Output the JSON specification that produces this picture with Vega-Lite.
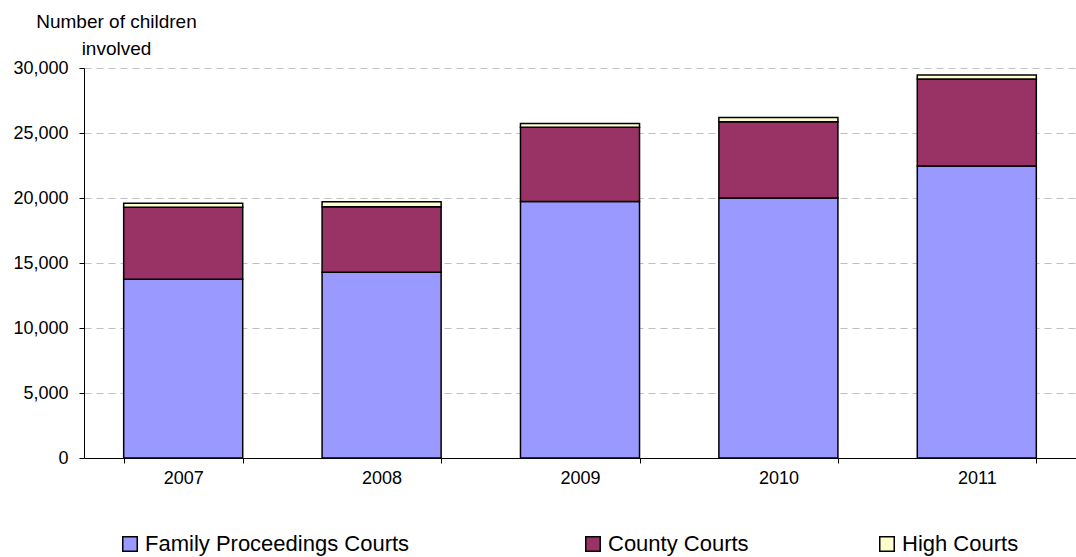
{
  "$schema": "https://vega.github.io/schema/vega-lite/v6.json",
  "autosize": {"type": "none"},
  "padding": {"left": 84, "top": 68, "right": 0, "bottom": 99},
  "width": 992,
  "height": 390,
  "background": "white",
  "config": {
    "font": "Liberation Sans",
    "view": {"stroke": null},
    "legend": {
      "title": null, "orient": "none", "direction": "horizontal", "padding": 0,
      "symbolType": "square", "symbolSize": 210, "symbolStrokeColor": "black",
      "symbolStrokeWidth": 1.5, "labelFontSize": 22, "labelColor": "black",
      "labelOffset": 4, "labelLimit": 400
    }
  },
  "data": {
    "values": [
      {"year": "2007", "court": "Family Proceedings Courts", "ord": 1, "n": 13750},
      {"year": "2007", "court": "County Courts", "ord": 2, "n": 5530},
      {"year": "2007", "court": "High Courts", "ord": 3, "n": 310},
      {"year": "2008", "court": "Family Proceedings Courts", "ord": 1, "n": 14280},
      {"year": "2008", "court": "County Courts", "ord": 2, "n": 5050},
      {"year": "2008", "court": "High Courts", "ord": 3, "n": 390},
      {"year": "2009", "court": "Family Proceedings Courts", "ord": 1, "n": 19740},
      {"year": "2009", "court": "County Courts", "ord": 2, "n": 5700},
      {"year": "2009", "court": "High Courts", "ord": 3, "n": 300},
      {"year": "2010", "court": "Family Proceedings Courts", "ord": 1, "n": 20000},
      {"year": "2010", "court": "County Courts", "ord": 2, "n": 5870},
      {"year": "2010", "court": "High Courts", "ord": 3, "n": 330},
      {"year": "2011", "court": "Family Proceedings Courts", "ord": 1, "n": 22460},
      {"year": "2011", "court": "County Courts", "ord": 2, "n": 6690},
      {"year": "2011", "court": "High Courts", "ord": 3, "n": 310}
    ]
  },
  "transform": [
    {"stack": "n", "groupby": ["year"], "sort": [{"field": "ord", "order": "ascending"}], "as": ["y0", "y1"]}
  ],
  "encoding": {
    "x": {
      "field": "year", "type": "nominal",
      "scale": {"paddingInner": 0.4, "paddingOuter": 0.2},
      "axis": {
        "title": null, "labelAngle": 0, "labelFontSize": 18, "labelColor": "black",
        "labelPadding": 6, "domainColor": "black", "tickColor": "black",
        "tickBand": "extent", "tickSize": 5, "grid": false
      }
    },
    "y": {
      "field": "y0", "type": "quantitative",
      "scale": {"domain": [0, 30000], "nice": false},
      "axis": {
        "values": [0, 5000, 10000, 15000, 20000, 25000, 30000],
        "format": ",d", "labelFontSize": 18, "labelColor": "black", "labelPadding": 11,
        "domainColor": "black", "tickColor": "black", "tickSize": 5,
        "grid": true, "gridColor": "#c0c0c0", "gridDash": [7, 5],
        "title": ["Number of children", "involved"],
        "titleAngle": 0, "titleAlign": "center", "titleBaseline": "alphabetic",
        "titleX": 32, "titleY": -41, "titleFontSize": 19, "titleFontWeight": "normal",
        "titleColor": "black", "titleLineHeight": 27
      }
    },
    "y2": {"field": "y1"}
  },
  "layer": [
    {
      "transform": [{"filter": "datum.court === 'Family Proceedings Courts'"}],
      "mark": {"type": "bar", "stroke": "black", "strokeWidth": 1.5},
      "encoding": {
        "color": {
          "field": "court", "type": "nominal",
          "scale": {"domain": ["Family Proceedings Courts"], "range": ["#9999FF"]},
          "legend": {"legendX": 35, "legendY": 465}
        }
      }
    },
    {
      "transform": [{"filter": "datum.court === 'County Courts'"}],
      "mark": {"type": "bar", "stroke": "black", "strokeWidth": 1.5},
      "encoding": {
        "color": {
          "field": "court", "type": "nominal",
          "scale": {"domain": ["County Courts"], "range": ["#993366"]},
          "legend": {"legendX": 498, "legendY": 465}
        }
      }
    },
    {
      "transform": [{"filter": "datum.court === 'High Courts'"}],
      "mark": {"type": "bar", "stroke": "black", "strokeWidth": 1.5},
      "encoding": {
        "color": {
          "field": "court", "type": "nominal",
          "scale": {"domain": ["High Courts"], "range": ["#FFFFCC"]},
          "legend": {"legendX": 792, "legendY": 465}
        }
      }
    }
  ],
  "resolve": {"scale": {"color": "independent"}, "legend": {"color": "independent"}}
}
